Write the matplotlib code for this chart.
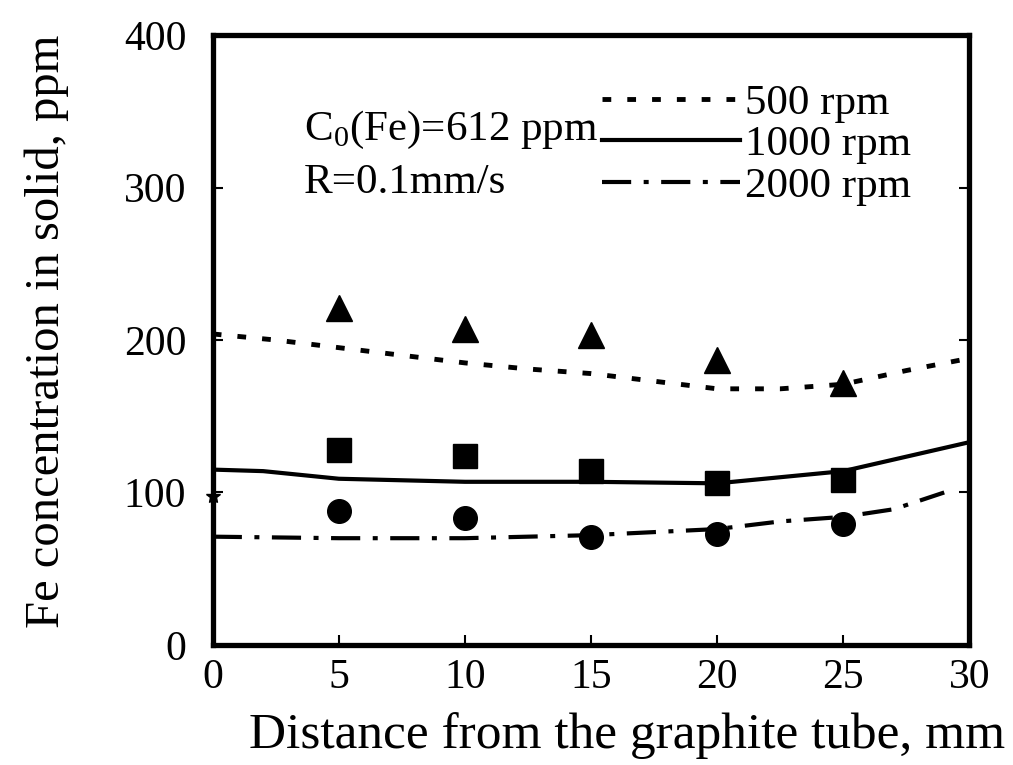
import matplotlib
matplotlib.use("Agg")
import matplotlib.pyplot as plt
from matplotlib.lines import Line2D

plt.rcParams['font.family'] = ['Liberation Serif', 'DejaVu Serif']
plt.rcParams['mathtext.fontset'] = 'custom'
plt.rcParams['mathtext.rm'] = 'Liberation Serif'

# measured points
x_meas = [5, 10, 15, 20, 25]
meas_500 = [221, 207, 203, 187, 172]
meas_1000 = [128, 124, 114, 106, 108]
meas_2000 = [88, 83, 71, 73, 79]

# calculated curves
x_500 = [0, 2.5, 5, 7.5, 10, 12.5, 15, 17.5, 20, 22.5, 25, 27.5, 30]
calc_500 = [204, 200, 195, 190, 185, 181, 178, 173, 168, 168, 171, 180, 188]
x_1000 = [0, 2, 5, 10, 15, 20, 25, 30]
calc_1000 = [115, 114, 109, 107, 107, 106, 114, 133]
x_2000 = [0, 5, 10, 15, 20, 22.5, 25, 27, 29]
calc_2000 = [71, 70, 70, 72, 76, 81, 84, 89, 100]

x_ticks = [0, 5, 10, 15, 20, 25, 30]
y_ticks = [0, 100, 200, 300, 400]
labels = ['500 rpm', '1000 rpm', '2000 rpm']

fig = plt.figure(figsize=(10.13, 7.65), dpi=100)
ax = fig.add_axes([0.210, 0.157, 0.747, 0.797])

dotted = (0, (1.8, 3.3))
dashdot = (0, (7, 3, 1.2, 3))

ax.plot(x_500, calc_500, color='black', lw=3.5, linestyle=dotted)
ax.plot(x_1000, calc_1000, color='black', lw=3.0, linestyle='-')
ax.plot(x_2000, calc_2000, color='black', lw=3.0, linestyle=dashdot)

ax.plot(x_meas, meas_500, '^', color='black', markersize=19, linestyle='none')
ax.plot(x_meas, meas_1000, 's', color='black', markersize=17, linestyle='none')
ax.plot(x_meas, meas_2000, 'o', color='black', markersize=17, linestyle='none')
ax.plot([0], [98], '*', color='black', markersize=10, clip_on=False)

ax.set_xlim(0, 30)
ax.set_ylim(0, 400)
ax.set_xticks(x_ticks)
ax.set_yticks(y_ticks)
ax.tick_params(direction='in', length=7, width=1.5, labelsize=30,
               right=True, top=False)
ax.tick_params(axis='y', pad=19)
ax.tick_params(axis='x', pad=10)
for s in ax.spines.values():
    s.set_linewidth(3.8)

ax.set_xlabel('Distance from the graphite tube, mm', fontsize=37)
ax.xaxis.set_label_coords(0.547, -0.11)
ax.set_ylabel('Fe concentration in solid, ppm', fontsize=35)
ax.yaxis.set_label_coords(-0.19, 0.515)

ax.text(0.12, 0.845, 'C$_0$(Fe)=612 ppm', transform=ax.transAxes,
        fontsize=31, va='center', ha='left')
ax.text(0.12, 0.758, 'R=0.1mm/s', transform=ax.transAxes,
        fontsize=31, va='center', ha='left')

handles = [Line2D([], [], color='black', lw=3.5, linestyle=dotted),
           Line2D([], [], color='black', lw=3.0, linestyle='-'),
           Line2D([], [], color='black', lw=3.0, linestyle=dashdot)]
ax.legend(handles, labels, loc='upper left', bbox_to_anchor=(0.515, 0.92),
          frameon=False, fontsize=31, handlelength=3.2, handletextpad=0.12,
          labelspacing=0.05, borderaxespad=0, borderpad=0)

fig.savefig('out.png', dpi=100)
